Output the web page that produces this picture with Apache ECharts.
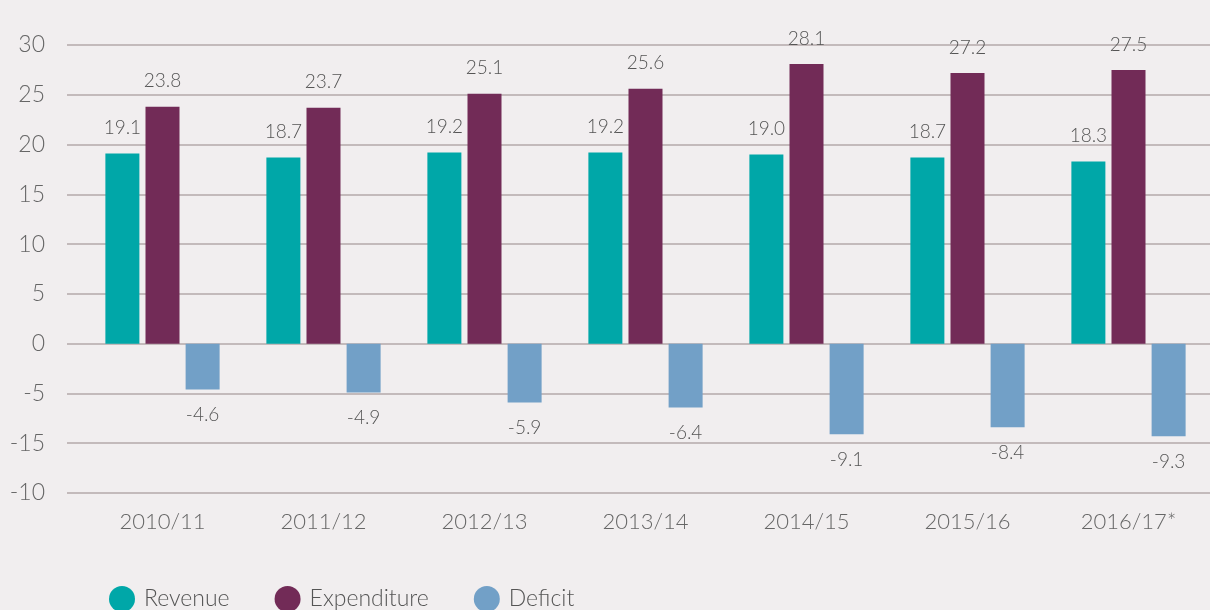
<!DOCTYPE html>
<html>
<head>
<meta charset="utf-8">
<script src="https://cdn.jsdelivr.net/npm/echarts@6/dist/echarts.min.js"></script>
<style>
  html, body { margin: 0; padding: 0; background: #f1eeef; }
  #chart { width: 1210px; height: 610px; }
</style>
</head>
<body>
<div id="chart"></div>
<script>
const categories = ['2010/11', '2011/12', '2012/13', '2013/14', '2014/15', '2015/16', '2016/17*'];
const revenue = [19.1, 18.7, 19.2, 19.2, 19.0, 18.7, 18.3];
const expenditure = [23.8, 23.7, 25.1, 25.6, 28.1, 27.2, 27.5];
const deficit = [-4.6, -4.9, -5.9, -6.4, -9.1, -8.4, -9.3];
// tick labels as printed on the original axis (bottom two are swapped there)
const yTickValues = [30, 25, 20, 15, 10, 5, 0, -5, -10, -15];
const yTickLabels = ['30', '25', '20', '15', '10', '5', '0', '-5', '-15', '-10'];

const font = 'Lato, "Noto Sans", sans-serif';

const myChart = echarts.init(document.getElementById('chart'));

const valueLabel = (pos, dist) => ({
  show: true,
  position: pos,
  distance: dist,
  color: '#555',
  fontFamily: font,
  fontWeight: 300,
  fontSize: 19,
  formatter: (p) => p.value.toFixed(1)
});

myChart.setOption({
  backgroundColor: '#f1eeef',
  animation: false,
  legend: {
    left: 104,
    top: 581,
    itemWidth: 26,
    itemHeight: 26,
    itemGap: 45,
    icon: 'circle',
    textStyle: { color: '#555', fontFamily: font, fontWeight: 300, fontSize: 23, padding: [0, 0, 0, 4] },
    data: ['Revenue', 'Expenditure', 'Deficit']
  },
  grid: [
    { left: 67, right: 0, top: 45, height: 448 },
    { left: 82, right: 1, top: 45, height: 448 }
  ],
  xAxis: [
    { gridIndex: 0, type: 'value', show: false, min: 0, max: 1 },
    {
      gridIndex: 1,
      type: 'category',
      data: categories,
      axisLine: { show: false },
      axisTick: { show: false },
      axisLabel: { color: '#666', fontFamily: font, fontWeight: 300, fontSize: 22, margin: 18 }
    }
  ],
  yAxis: [
    {
      gridIndex: 0,
      type: 'value',
      min: -15,
      max: 30,
      interval: 5,
      axisLine: { show: false },
      axisTick: { show: false },
      splitLine: { lineStyle: { color: '#b3a8aa', width: 1.5 } },
      axisLabel: {
        color: '#666',
        fontFamily: font,
        fontWeight: 300,
        fontSize: 23,
        margin: 22,
        formatter: (v) => yTickLabels[yTickValues.indexOf(v)]
      }
    },
    { gridIndex: 1, type: 'value', min: -15, max: 30, interval: 5, show: false, splitLine: { show: false } }
  ],
  series: [
    {
      name: 'Revenue',
      type: 'bar',
      xAxisIndex: 1,
      yAxisIndex: 1,
      data: revenue,
      barWidth: 34,
      barGap: '18%',
      itemStyle: { color: '#00a7a8' },
      label: valueLabel('top', 16)
    },
    {
      name: 'Expenditure',
      type: 'bar',
      xAxisIndex: 1,
      yAxisIndex: 1,
      data: expenditure,
      barWidth: 34,
      barGap: '18%',
      itemStyle: { color: '#722b57' },
      label: valueLabel('top', 16)
    },
    {
      name: 'Deficit',
      type: 'bar',
      xAxisIndex: 1,
      yAxisIndex: 1,
      data: deficit,
      barWidth: 34,
      barGap: '18%',
      itemStyle: { color: '#72a0c7' },
      label: valueLabel('bottom', 16)
    }
  ]
});
</script>
</body>
</html>
